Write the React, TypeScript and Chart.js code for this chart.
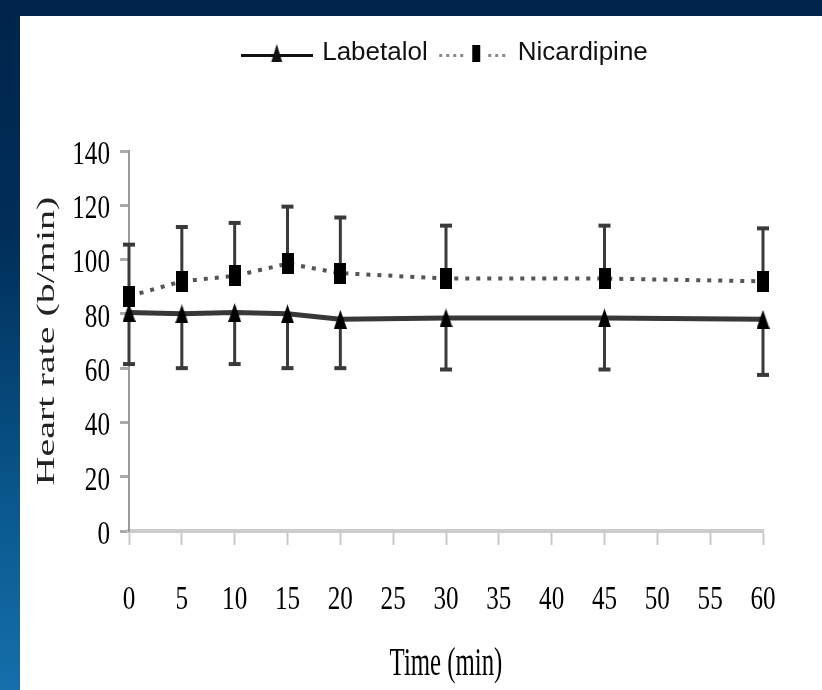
import React, { useEffect, useRef } from 'react';
import { Chart, registerables } from 'chart.js';

Chart.register(...registerables);

// ---- data ----
const times = [0, 5, 10, 15, 20, 30, 45, 60];
const labetalol = [80.5, 80, 80.5, 80, 78, 78.5, 78.5, 78];
const labetalolLower = [61.5, 60, 61.5, 60, 60, 59.5, 59.5, 57.5];
const nicardipine = [86.5, 92, 94, 98.5, 95, 93, 93, 92];
const nicardipineUpper = [105.5, 112, 113.5, 119.5, 115.5, 112.5, 112.5, 111.5];
const seriesNames = ['Labetalol', 'Nicardipine'];
const xTickValues = [0, 5, 10, 15, 20, 25, 30, 35, 40, 45, 50, 55, 60];
const yTickValues = [0, 20, 40, 60, 80, 100, 120, 140];
const xTitle = 'Time (min)';
const yTitle = 'Heart rate (b/min)';

// ---- styling helpers ----
const SERIF = "'Liberation Serif'";
const SANS = "'Liberation Sans', Arial";

function makeCanvas(w: number, h: number, draw: (g: CanvasRenderingContext2D) => void) {
  const c = document.createElement('canvas');
  c.width = w;
  c.height = h;
  const g = c.getContext('2d')!;
  draw(g);
  return c;
}

function squeezeFor(font: string) {
  if (!/Serif/.test(font)) return 1;
  const m = /([\d.]+)px/.exec(font);
  const size = m ? parseFloat(m[1]) : 12;
  return size >= 38 ? 0.62 : 0.74;
}

export default function App() {
  const ref = useRef<HTMLCanvasElement>(null);

  useEffect(() => {
    const canvas = ref.current!;
    const ctx = canvas.getContext('2d')!;
    const nativeFill = CanvasRenderingContext2D.prototype.fillText;
    (ctx as any).fillText = function (text: string, x: number, y: number) {
      const f = squeezeFor(ctx.font);
      if (f === 1) {
        nativeFill.call(ctx, text, x, y);
        return;
      }
      const m = ctx.getTransform();
      const p = m.transformPoint(new DOMPoint(x, y));
      ctx.save();
      ctx.setTransform(
        new DOMMatrix().translate(p.x, p.y).scale(f, 1).translate(-p.x, -p.y).multiply(m)
      );
      nativeFill.call(ctx, text, x, y);
      ctx.restore();
    };

    const triangle = makeCanvas(13, 19, (g) => {
      g.fillStyle = '#000';
      g.beginPath();
      g.moveTo(6.5, 0);
      g.lineTo(13, 19);
      g.lineTo(0, 19);
      g.closePath();
      g.fill();
    });
    const square = makeCanvas(12, 21, (g) => {
      g.fillStyle = '#000';
      g.fillRect(0, 0, 12, 21);
    });
    const legendSym1 = makeCanvas(72, 24, (g) => {
      g.fillStyle = '#111';
      g.fillRect(0, 13, 72, 3);
      g.beginPath();
      g.moveTo(36, 3);
      g.lineTo(41.5, 21);
      g.lineTo(30.5, 21);
      g.closePath();
      g.fill();
    });
    const legendSym2 = makeCanvas(68, 24, (g) => {
      g.fillStyle = '#888';
      for (let x = 1; x < 68; x += 7) {
        if (x > 28 && x < 44) continue;
        g.fillRect(x, 13, 3, 3);
      }
      g.fillStyle = '#000';
      g.fillRect(34, 4, 8, 17);
    });

    const labPts = times.map((t, i) => ({ x: t, y: labetalol[i] }));
    const nicPts = times.map((t, i) => ({ x: t, y: nicardipine[i] }));
    const labErr = times.flatMap((t, i) => [
      { x: t, y: labetalol[i] },
      { x: t, y: labetalolLower[i] },
      { x: t, y: null as any },
    ]);
    const nicErr = times.flatMap((t, i) => [
      { x: t, y: nicardipine[i] },
      { x: t, y: nicardipineUpper[i] },
      { x: t, y: null as any },
    ]);
    const capRadius = (c: any) => (c.dataIndex % 3 === 1 ? 6 : 0);

    const chart = new Chart(canvas, {
      type: 'line',
      data: {
        datasets: [
          {
            label: seriesNames[0],
            data: labPts,
            borderColor: '#383838',
            borderWidth: 5,
            pointStyle: triangle as any,
            pointRadius: 6,
            tension: 0,
            clip: false as any,
            order: 0,
          },
          {
            label: seriesNames[1],
            data: nicPts,
            borderColor: '#555',
            borderWidth: 4,
            borderDash: [4, 7],
            pointStyle: square as any,
            pointRadius: 6,
            tension: 0,
            clip: false as any,
            order: 1,
          },
          {
            label: 'lab-err',
            data: labErr,
            borderColor: '#3a3a3a',
            borderWidth: 3,
            pointStyle: 'line',
            pointRadius: capRadius,
            pointBorderColor: '#3a3a3a',
            pointBorderWidth: 4,
            tension: 0,
            spanGaps: false,
            clip: false as any,
            order: 2,
          },
          {
            label: 'nic-err',
            data: nicErr,
            borderColor: '#3a3a3a',
            borderWidth: 3,
            pointStyle: 'line',
            pointRadius: capRadius,
            pointBorderColor: '#3a3a3a',
            pointBorderWidth: 4,
            tension: 0,
            spanGaps: false,
            clip: false as any,
            order: 3,
          },
        ],
      },
      options: {
        responsive: false,
        animation: false,
        events: [],
        layout: { padding: { top: 28, right: 59, bottom: 0, left: 0 } },
        plugins: {
          tooltip: { enabled: false },
          title: {
            display: true,
            text: '',
            position: 'top',
            weight: 500,
            padding: { top: 0, bottom: 65 },
            font: { size: 10, lineHeight: 1 },
          },
          legend: {
            display: true,
            position: 'top',
            fullSize: false,
            labels: {
              usePointStyle: true,
              pointStyleWidth: 65,
              padding: 12,
              color: '#111',
              font: { family: SANS, size: 26 },
              generateLabels: () => [
                {
                  text: seriesNames[0],
                  pointStyle: legendSym1 as any,
                  datasetIndex: 0,
                  hidden: false,
                  lineWidth: 0,
                  fillStyle: 'rgba(0,0,0,0)',
                  strokeStyle: 'rgba(0,0,0,0)',
                  fontColor: '#111',
                },
                {
                  text: seriesNames[1],
                  pointStyle: legendSym2 as any,
                  datasetIndex: 1,
                  hidden: false,
                  lineWidth: 0,
                  fillStyle: 'rgba(0,0,0,0)',
                  strokeStyle: 'rgba(0,0,0,0)',
                  fontColor: '#111',
                },
              ],
            },
          },
        },
        scales: {
          x: {
            type: 'linear',
            position: 'bottom',
            min: xTickValues[0],
            max: xTickValues[xTickValues.length - 1],
            afterFit: (s: any) => {
              s.height = 159;
            },
            ticks: {
              stepSize: xTickValues[1] - xTickValues[0],
              autoSkip: false,
              maxRotation: 0,
              padding: 35,
              color: '#000',
              font: { family: SERIF, size: 34 },
            },
            grid: {
              drawOnChartArea: false,
              drawTicks: true,
              tickLength: 14,
              tickColor: '#c8c8c8',
              tickWidth: 2,
            },
            border: { display: true, color: '#cccccc', width: 4 },
            title: {
              display: true,
              text: xTitle,
              color: '#000',
              font: { family: SERIF, size: 40 },
              padding: { top: 0, bottom: 2 },
            },
          },
          y: {
            type: 'linear',
            position: 'left',
            min: yTickValues[0],
            max: yTickValues[yTickValues.length - 1],
            afterFit: (s: any) => {
              s.width = 129;
            },
            ticks: {
              stepSize: yTickValues[1] - yTickValues[0],
              padding: 10,
              labelOffset: 4,
              color: '#000',
              font: { family: SERIF, size: 34 },
            },
            grid: {
              drawOnChartArea: false,
              drawTicks: true,
              tickLength: 9,
              tickColor: '#aaaaaa',
              tickWidth: 3,
            },
            border: { display: true, color: '#9a9a9a', width: 2 },
            title: {
              display: true,
              text: yTitle,
              color: '#222',
              font: { family: SERIF, size: 40 },
              padding: { top: 23, bottom: 0 },
            },
          },
        },
      },
    });

    return () => {
      chart.destroy();
      delete (ctx as any).fillText;
    };
  }, []);

  return (
    <div
      style={{
        position: 'fixed',
        left: 0,
        top: 0,
        width: 822,
        height: 690,
        overflow: 'hidden',
        background: 'linear-gradient(180deg, #00244a 0%, #002f5a 35%, #0a5a90 75%, #156fab 100%)',
      }}
    >
      <div style={{ position: 'absolute', left: 20, top: 16, right: 0, bottom: 0, background: '#fff' }} />
      <canvas ref={ref} width={822} height={690} style={{ position: 'absolute', left: 0, top: 0 }} />
    </div>
  );
}
